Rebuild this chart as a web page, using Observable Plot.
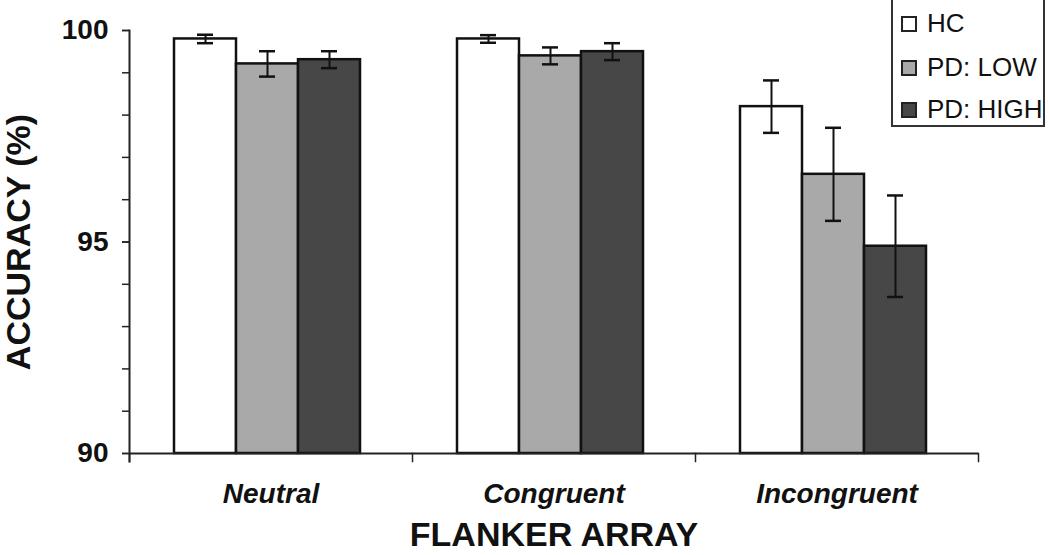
<!DOCTYPE html>
<html>
<head>
<meta charset="utf-8">
<script src="https://cdn.jsdelivr.net/npm/d3@7"></script>
<script src="https://cdn.jsdelivr.net/npm/@observablehq/plot@0.6"></script>
<style>
  html, body { margin: 0; padding: 0; background: #fff; }
  #wrap { position: relative; width: 1050px; height: 555px; font-family: "Liberation Sans", Arial, sans-serif; }
  #legend { position: absolute; left: 891px; top: -2px; width: 150px; height: 125px; border: 2px solid #333; background: #fff; }
  .item { position: absolute; left: 8px; display: flex; align-items: center; font-size: 26px; color: #111; }
  .sw { width: 12px; height: 12px; border: 2px solid #222; margin-right: 10px; }
</style>
</head>
<body>
<div id="wrap"></div>
<script>
const flankers = ["Neutral", "Congruent", "Incongruent"];
const groups = ["HC", "PD: LOW", "PD: HIGH"];
const hcMean = [99.80, 99.80, 98.20];
const hcErr = [0.10, 0.09, 0.62];
const lowMean = [99.21, 99.40, 96.60];
const lowErr = [0.30, 0.20, 1.10];
const highMean = [99.31, 99.50, 94.90];
const highErr = [0.20, 0.20, 1.20];
const fills = ["#ffffff", "#a9a9a9", "#474747"];
const yTicks = [90, 95, 100];

const means = [hcMean, lowMean, highMean];
const errs = [hcErr, lowErr, highErr];
const rows = [];
flankers.forEach((f, i) => groups.forEach((g, j) => rows.push({flanker: f, group: g, mean: means[j][i], err: errs[j][i]})));

const W = 1050, H = 555, mT = 30, mB = 102, mL = 129, mR = 72;
const innerH = H - mT - mB;

const chart = Plot.plot({
  width: W, height: H,
  marginLeft: mL, marginRight: mR, marginTop: mT, marginBottom: mB,
  style: {fontFamily: "'Liberation Sans', Arial, sans-serif", color: "#111", background: "transparent"},
  fx: {domain: flankers, padding: 0, label: null},
  x: {domain: groups, paddingInner: 0, paddingOuter: 0.75, align: 0.46, axis: null},
  y: {domain: [90, 100], axis: null},
  color: {domain: groups, range: fills},
  marks: [
    Plot.barY(rows, {fx: "flanker", x: "group", y1: 90, y2: "mean", fill: "group", stroke: "#111", strokeWidth: 2.5}),
    Plot.ruleX(rows, {fx: "flanker", x: "group", y1: d => d.mean - d.err, y2: d => d.mean + d.err, stroke: "#111", strokeWidth: 2}),
    Plot.tickY(rows, {fx: "flanker", x: "group", y: d => d.mean + d.err, insetLeft: 23, insetRight: 23, stroke: "#111", strokeWidth: 2.5}),
    Plot.tickY(rows, {fx: "flanker", x: "group", y: d => d.mean - d.err, insetLeft: 23, insetRight: 23, stroke: "#111", strokeWidth: 2.5}),
    Plot.ruleY([90], {stroke: "#222", strokeWidth: 2}),
    Plot.frame({anchor: "left", insetTop: innerH, insetBottom: -8, stroke: "#222", strokeWidth: 1.5}),
    Plot.frame({anchor: "right", facetAnchor: "right", insetTop: innerH, insetBottom: -8, stroke: "#222", strokeWidth: 1.5}),
    Plot.frame({anchor: "left", facetAnchor: "left", insetBottom: -8, stroke: "#222", strokeWidth: 2}),
    Plot.axisY({ticks: d3.range(90, 101), tickSize: 7, tickFormat: () => "", stroke: "#222", strokeWidth: 1.5, label: null}),
    Plot.axisY({ticks: yTicks, tickSize: 7, tickPadding: 14, fontSize: 28, fontWeight: "bold", stroke: "#222", strokeWidth: 1.5, label: null}),
    Plot.axisY({ticks: [], label: "ACCURACY (%)", labelAnchor: "center", labelOffset: 124, labelArrow: "none", fontSize: 34, fontWeight: "bold"}),
    Plot.axisFx({anchor: "bottom", tickSize: 0, tickPadding: 30, fontSize: 28, fontStyle: "italic", fontWeight: "bold", label: null}),
    Plot.axisFx({anchor: "bottom", ticks: [], label: "FLANKER ARRAY", labelAnchor: "center", labelOffset: 92, labelArrow: "none", fontSize: 34, fontWeight: "bold"})
  ]
});
const wrap = document.getElementById("wrap");
wrap.appendChild(chart);

const legend = document.createElement("div");
legend.id = "legend";
const tops = [8, 52, 94];
groups.forEach((g, j) => {
  const it = document.createElement("div");
  it.className = "item";
  it.style.top = tops[j] + "px";
  const sw = document.createElement("div");
  sw.className = "sw";
  sw.style.background = fills[j];
  const tx = document.createElement("span");
  tx.textContent = g;
  it.appendChild(sw);
  it.appendChild(tx);
  legend.appendChild(it);
});
wrap.appendChild(legend);
</script>
</body>
</html>
